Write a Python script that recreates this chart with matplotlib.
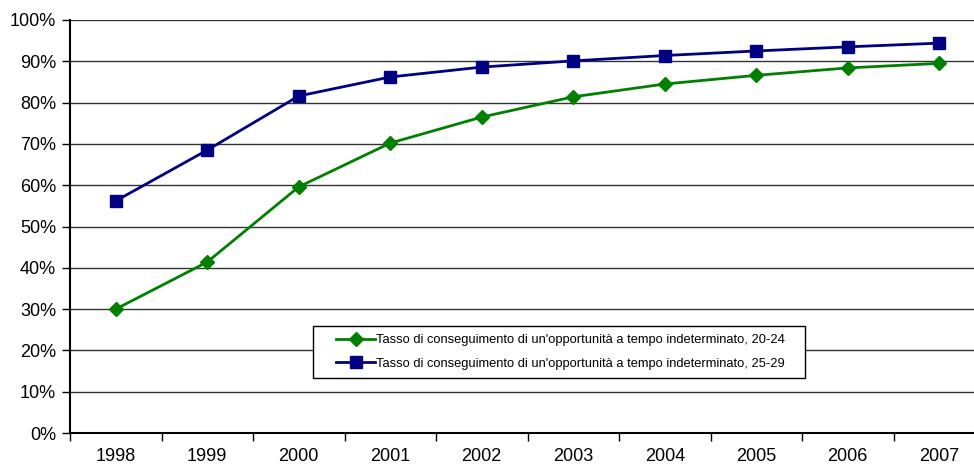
import matplotlib.pyplot as plt
from matplotlib.patches import Rectangle
from matplotlib.ticker import PercentFormatter, FixedLocator

plt.rcParams['font.family'] = ['Liberation Sans', 'DejaVu Sans']

years = ['1998', '1999', '2000', '2001', '2002', '2003', '2004', '2005', '2006', '2007']
tasso_20_24 = [30.0, 41.4, 59.6, 70.2, 76.5, 81.4, 84.5, 86.6, 88.4, 89.5]
tasso_25_29 = [56.2, 68.5, 81.6, 86.2, 88.6, 90.1, 91.4, 92.5, 93.5, 94.4]

lbl_20_24 = "Tasso di conseguimento di un'opportunità a tempo indeterminato, 20-24"
lbl_25_29 = "Tasso di conseguimento di un'opportunità a tempo indeterminato, 25-29"

W, H = 974, 467
fig = plt.figure(figsize=(W / 100, H / 100), dpi=100)
ax = fig.add_axes([70 / W, 1 - 433 / H, 915 / W, 413 / H])

x = range(len(years))
ax.plot(x, tasso_20_24, color='#008000', lw=2, marker='D', ms=7, label=lbl_20_24)
ax.plot(x, tasso_25_29, color='#000080', lw=2, marker='s', ms=8, label=lbl_25_29)

ax.set_xlim(-0.5, len(years) - 0.5)
ax.set_ylim(0, 100)
ax.set_yticks(range(0, 101, 10))
ax.yaxis.set_major_formatter(PercentFormatter(decimals=0))
ax.set_xticks(list(x))
ax.set_xticklabels(years)
ax.xaxis.set_minor_locator(FixedLocator([i - 0.5 for i in range(len(years) + 1)]))
ax.tick_params(axis='x', which='major', length=0, pad=11, labelsize=13)
ax.tick_params(axis='x', which='minor', length=6, width=1, color='black')
ax.tick_params(axis='y', length=6, width=1, pad=4, labelsize=13)

ax.grid(axis='y', color='#333333', lw=1)
ax.set_axisbelow(True)
for s in ['top', 'right']:
    ax.spines[s].set_visible(False)
ax.spines['left'].set_linewidth(1.5)
ax.spines['bottom'].set_linewidth(1.5)

# legend box drawn separately so it can have wider side margins
box = Rectangle((313 / W, 1 - 378 / H), 492 / W, 52 / H, transform=fig.transFigure,
                facecolor='white', edgecolor='black', lw=1, zorder=4)
fig.patches.append(box)
leg = fig.legend(loc='upper left', bbox_to_anchor=(330 / W, 1 - 328 / H),
                 fontsize=9.3, frameon=False, handlelength=3.0, handletextpad=0.1,
                 borderpad=0.5, labelspacing=0.85, borderaxespad=0)
leg.set_zorder(5)

fig.savefig('out.png', dpi=100)
